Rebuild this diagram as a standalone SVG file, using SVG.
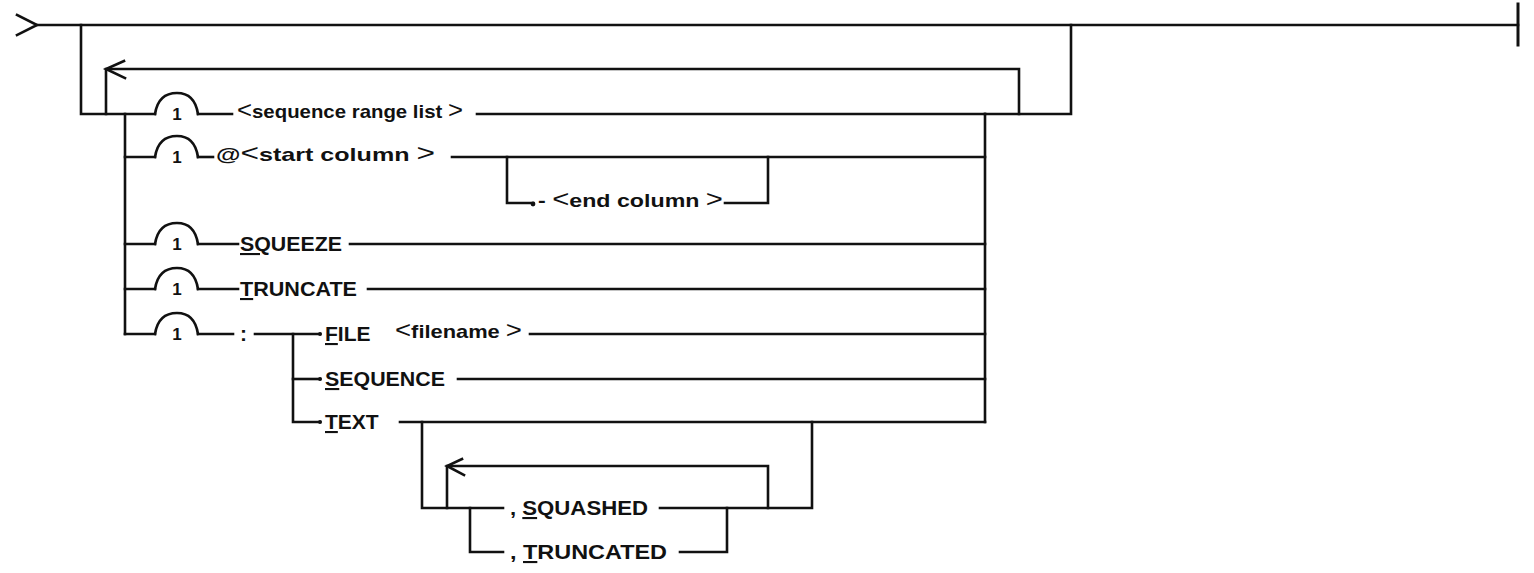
<svg xmlns="http://www.w3.org/2000/svg" width="1534" height="573" viewBox="0 0 1534 573">
<style>
.ln{fill:none;stroke:#111;stroke-width:2.6;stroke-linecap:square;stroke-linejoin:miter}
.t{font-family:"Liberation Sans",Arial,sans-serif;font-weight:bold;font-size:21px;fill:#111}
.lc{font-family:"Liberation Sans",Arial,sans-serif;font-weight:bold;font-size:19px;fill:#111}
.ang{font-weight:normal;font-size:24px}
.one{font-family:"Liberation Sans",Arial,sans-serif;font-weight:bold;font-size:17px;fill:#111;text-anchor:middle}
.u{text-decoration:underline}
.dot{fill:#111}
</style>
<rect width="1534" height="573" fill="#fff"/>
<g id="connectors">
<path class="ln" d="M17,15 L37,25 L17,35"/>
<path class="ln" d="M37,25 H1518"/>
<path class="ln" d="M1518,4 V45" style="stroke-width:3"/>
<path class="ln" d="M81,25 V114 H155"/>
<path class="ln" d="M1071,25 V114 H985"/>
<path class="ln" d="M106,114 V69 H1019 V114"/>
<path class="ln" d="M124,61 L106,69 L125,78"/>
<path class="ln" d="M125,114 V334"/>
<path class="ln" d="M985,114 V422"/>
<path class="ln" d="M198,114 H232"/>
<path class="ln" d="M477,114 H985"/>
<path class="ln" d="M125,157 H155"/>
<path class="ln" d="M198,157 H213"/>
<path class="ln" d="M452,157 H985"/>
<path class="ln" d="M507,157 V203 H533"/>
<path class="ln" d="M725,203 H768 V157"/>
<path class="ln" d="M125,244 H155"/>
<path class="ln" d="M198,244 H238"/>
<path class="ln" d="M350,244 H985"/>
<path class="ln" d="M125,289 H155"/>
<path class="ln" d="M198,289 H238"/>
<path class="ln" d="M368,289 H985"/>
<path class="ln" d="M125,334 H155"/>
<path class="ln" d="M198,334 H233"/>
<path class="ln" d="M255,334 H320"/>
<path class="ln" d="M530,334 H985"/>
<path class="ln" d="M293,334 V422 H320"/>
<path class="ln" d="M293,379 H320"/>
<path class="ln" d="M458,379 H985"/>
<path class="ln" d="M400,422 H985"/>
<path class="ln" d="M422,422 V508 H503"/>
<path class="ln" d="M812,422 V508 H660"/>
<path class="ln" d="M447,508 V466 H768 V508"/>
<path class="ln" d="M462,459 L447,466 L464,475"/>
<path class="ln" d="M470,508 V552 H503"/>
<path class="ln" d="M680,552 H727 V508"/>
<circle class="dot" cx="533" cy="204" r="2.4"/>
<circle class="dot" cx="320" cy="334" r="2"/>
<circle class="dot" cx="320" cy="379" r="2"/>
<circle class="dot" cx="320" cy="422" r="2"/>
</g>
<g id="arcs">
<path class="ln" d="M155,114 C157,101 164,93 177,93 C190,93 196,101 198,114"/>
<path class="ln" d="M155,157 C157,144 164,136 177,136 C190,136 196,144 198,157"/>
<path class="ln" d="M155,244 C157,231 164,223 177,223 C190,223 196,231 198,244"/>
<path class="ln" d="M155,289 C157,276 164,268 177,268 C190,268 196,276 198,289"/>
<path class="ln" d="M155,334 C157,321 164,313 177,313 C190,313 196,321 198,334"/>
<text class="one" x="177" y="120">1</text>
<text class="one" x="177" y="163">1</text>
<text class="one" x="177" y="250">1</text>
<text class="one" x="177" y="295">1</text>
<text class="one" x="177" y="340">1</text>
</g>
<g id="node-seqrange"><text class="lc" x="237" y="118" textLength="226" lengthAdjust="spacingAndGlyphs"><tspan class="ang">&lt;</tspan>sequence range list <tspan class="ang">&gt;</tspan></text></g>
<g id="node-startcol"><text class="lc" x="216" y="161" textLength="219" lengthAdjust="spacingAndGlyphs">@<tspan class="ang">&lt;</tspan>start column <tspan class="ang">&gt;</tspan></text></g>
<g id="node-endcol"><text class="lc" x="538" y="207" textLength="185" lengthAdjust="spacingAndGlyphs">- <tspan class="ang">&lt;</tspan>end column <tspan class="ang">&gt;</tspan></text></g>
<g id="node-squeeze"><text class="t" x="240" y="251" textLength="102" lengthAdjust="spacingAndGlyphs"><tspan class="u">SQ</tspan>UEEZE</text></g>
<g id="node-truncate"><text class="t" x="240" y="296" textLength="117" lengthAdjust="spacingAndGlyphs"><tspan class="u">T</tspan>RUNCATE</text></g>
<g id="node-colon"><text class="t" x="240" y="341">:</text></g>
<g id="node-file"><text class="t" x="325" y="341"><tspan class="u">F</tspan>ILE</text><text class="lc" x="395" y="338" textLength="127" lengthAdjust="spacingAndGlyphs"><tspan class="ang">&lt;</tspan>filename <tspan class="ang">&gt;</tspan></text></g>
<g id="node-sequence"><text class="t" x="325" y="386" textLength="120" lengthAdjust="spacingAndGlyphs"><tspan class="u">S</tspan>EQUENCE</text></g>
<g id="node-text"><text class="t" x="325" y="429"><tspan class="u">T</tspan>EXT</text></g>
<g id="node-squashed"><text class="t" x="510" y="515" textLength="138" lengthAdjust="spacingAndGlyphs">, <tspan class="u">S</tspan>QUASHED</text></g>
<g id="node-truncated"><text class="t" x="510" y="559" textLength="157" lengthAdjust="spacingAndGlyphs">, <tspan class="u">T</tspan>RUNCATED</text></g>
</svg>
